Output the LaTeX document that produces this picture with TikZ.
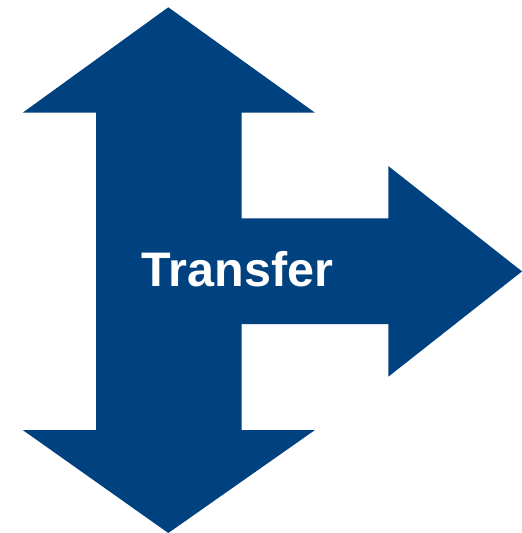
\documentclass[tikz,border=0pt]{standalone}
\usepackage{fontspec}
\setmainfont{Liberation Sans}
\definecolor{arrowblue}{RGB}{0,65,128}
\begin{document}
\begin{tikzpicture}[x=1pt,y=-1pt,
  arrowfill/.style={fill=arrowblue,draw=none},
  labeltext/.style={text=white,font=\fontsize{48.5}{58}\selectfont\bfseries,inner sep=0pt}]
\useasboundingbox (0,0) rectangle (522,533);
\fill[arrowblue] (168.3,7.3) -- (315,112.7) -- (241.7,112.7) -- (241.7,218.3)
  -- (388.3,218.3) -- (388.3,166) -- (522,271.4) -- (388.3,376.7) -- (388.3,324)
  -- (241.7,324) -- (241.7,430) -- (315,430) -- (168.3,533) -- (22.7,430)
  -- (96,430) -- (96,112.7) -- (22.7,112.7) -- cycle;
\node[labeltext,anchor=base] (label) at (237.5,286) {Transfer};
\end{tikzpicture}
\end{document}
